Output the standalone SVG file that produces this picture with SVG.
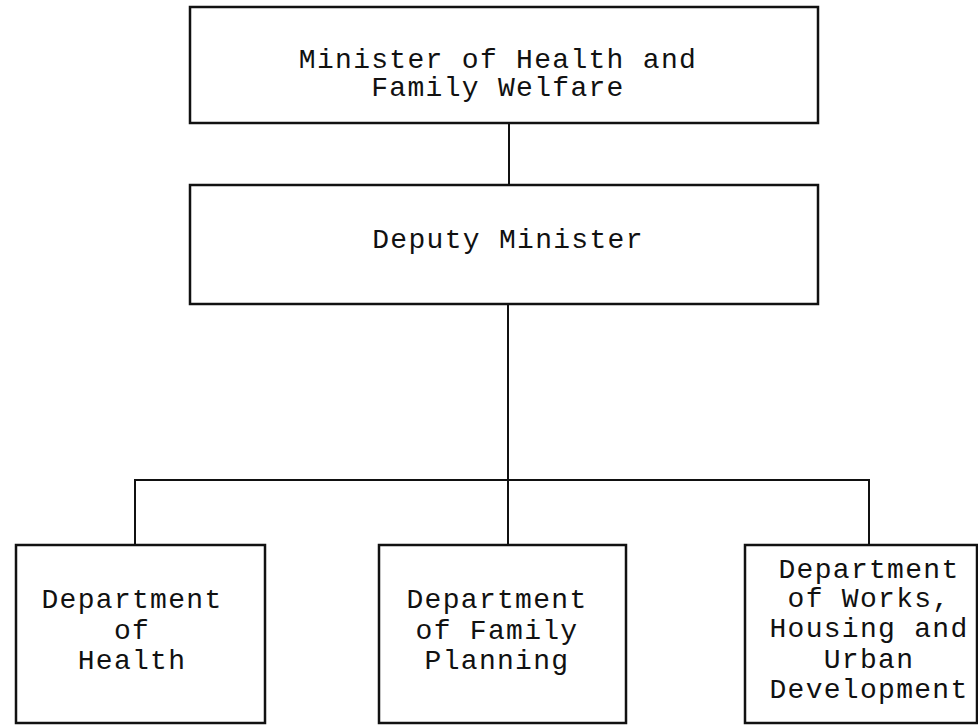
<svg xmlns="http://www.w3.org/2000/svg" width="978" height="725" viewBox="0 0 978 725">
<style>
.box{fill:#fff;stroke:#111;stroke-width:2.5}
.ln{fill:none;stroke:#111;stroke-width:2}
text{font-family:"Liberation Mono","Courier New",monospace;font-size:28px;letter-spacing:1.3px;fill:#111;text-anchor:middle}
</style>
<rect width="978" height="725" fill="#fff"/>
<g id="connectors">
<line class="ln" x1="509" y1="123" x2="509" y2="185"/>
<line class="ln" x1="508" y1="304" x2="508" y2="545"/>
<polyline class="ln" points="135,545 135,480 869,480 869,545"/>
</g>
<g id="minister">
<rect class="box" x="190" y="7" width="628" height="116"/>
<text x="498" y="68">Minister of Health and</text>
<text x="498" y="96">Family Welfare</text>
</g>
<g id="deputy">
<rect class="box" x="190" y="185" width="628" height="119"/>
<text x="508" y="248">Deputy Minister</text>
</g>
<g id="health">
<rect class="box" x="16" y="545" width="249" height="178"/>
<text x="132" y="608">Department</text>
<text x="132" y="639">of</text>
<text x="132" y="669">Health</text>
</g>
<g id="family-planning">
<rect class="box" x="379" y="545" width="247" height="178"/>
<text x="497" y="608">Department</text>
<text x="497" y="639">of Family</text>
<text x="497" y="669">Planning</text>
</g>
<g id="works">
<rect class="box" x="745" y="545" width="232" height="178"/>
<text x="869" y="578">Department</text>
<text x="869" y="607">of Works,</text>
<text x="869" y="637">Housing and</text>
<text x="869" y="668">Urban</text>
<text x="869" y="698">Development</text>
</g>
</svg>
